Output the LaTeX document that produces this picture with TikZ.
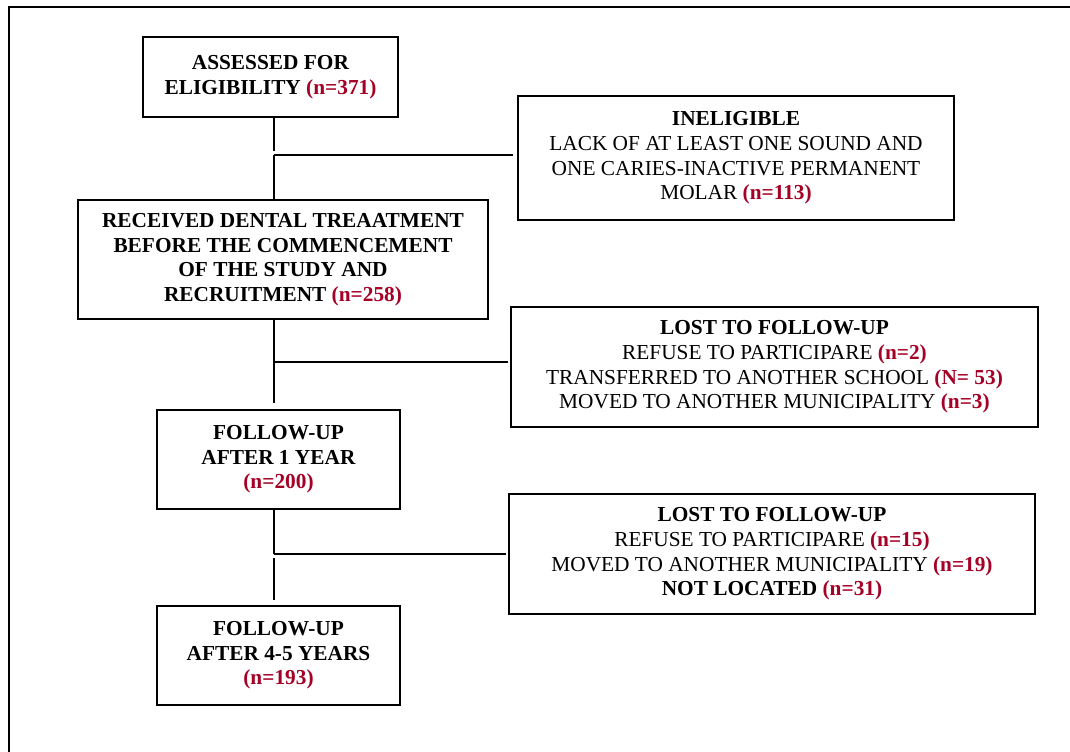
\documentclass[tikz,border=0pt]{standalone}
\usepackage{fontspec}
\setmainfont{Liberation Serif}
\definecolor{nred}{RGB}{165,0,38}
\newcommand{\nv}[1]{\textbf{\textcolor{nred}{#1}}}
\begin{document}
\begin{tikzpicture}[x=0.75pt,y=-0.75pt,
  box/.style={draw=black,line width=1.8pt,align=center,inner sep=0pt,
    font=\fontsize{16}{18.4}\selectfont},
  conn/.style={draw=black,line width=0.8pt},
  frame/.style={draw=black,line width=2pt}]
\useasboundingbox (0,0) rectangle (1070,752);
\fill[white] (0,0) rectangle (1070,752);
% outer frame (top and left edges visible)
\coordinate (ftl) at (9,7);
\coordinate (ftr) at (1075,7);
\coordinate (fbl) at (9,760);
\draw[frame] (ftr) -- (ftl) -- (fbl);
% main column
\node[box,minimum width=191.25pt,minimum height=60pt] (b1) at (270.5,77)
  {\textbf{ASSESSED FOR}\\\textbf{ELIGIBILITY} \nv{(n=371)}};
\node[box,minimum width=307.5pt,minimum height=89.25pt] (b2) at (283,259.5)
  {\textbf{RECEIVED DENTAL TREAATMENT}\\\textbf{BEFORE THE COMMENCEMENT}\\\textbf{OF THE STUDY AND}\\\textbf{RECRUITMENT} \nv{(n=258)}};
\node[box,minimum width=182.25pt,minimum height=74.25pt] (b3) at (278.5,459.5)
  {\textbf{FOLLOW-UP}\\\textbf{AFTER 1 YEAR}\\\nv{(n=200)}};
\node[box,minimum width=182.25pt,minimum height=74.25pt] (b4) at (278.5,655.5)
  {\textbf{FOLLOW-UP}\\\textbf{AFTER 4-5 YEARS}\\\nv{(n=193)}};
% side boxes
\node[box,minimum width=327pt,minimum height=93pt] (s1) at (736,158)
  {\textbf{INELIGIBLE}\\LACK OF AT LEAST ONE SOUND AND\\ONE CARIES-INACTIVE PERMANENT\\MOLAR \nv{(n=113)}};
\node[box,minimum width=395.25pt,minimum height=90pt] (s2) at (774.5,367)
  {\textbf{LOST TO FOLLOW-UP}\\REFUSE TO PARTICIPARE \nv{(n=2)}\\TRANSFERRED TO ANOTHER SCHOOL \nv{(N= 53)}\\MOVED TO ANOTHER MUNICIPALITY \nv{(n=3)}};
\node[box,minimum width=394.5pt,minimum height=90pt] (s3) at (772,554)
  {\textbf{LOST TO FOLLOW-UP}\\REFUSE TO PARTICIPARE \nv{(n=15)}\\MOVED TO ANOTHER MUNICIPALITY \nv{(n=19)}\\\textbf{NOT LOCATED} \nv{(n=31)}};
% junctions
\coordinate (j1) at (274,155);
\coordinate (j2) at (274,362);
\coordinate (j3) at (274,554);
% connectors
\draw[conn] (b1.south -| j1) -- ([yshift=3pt]j1);
\draw[conn] (j1) -- ([xshift=-2.5pt]s1.west |- j1);
\draw[conn] (j1) -- (b2.north -| j1);
\draw[conn] (b2.south -| j2) -- ([yshift=4.5pt]b3.north -| j2);
\draw[conn] (j2) -- ([xshift=-1pt]s2.west |- j2);
\draw[conn] (b3.south -| j3) -- (j3);
\draw[conn] (j3) -- ([xshift=-1pt]s3.west |- j3);
\draw[conn] ([yshift=-3pt]j3) -- ([yshift=3.5pt]b4.north -| j3);
\end{tikzpicture}
\end{document}
